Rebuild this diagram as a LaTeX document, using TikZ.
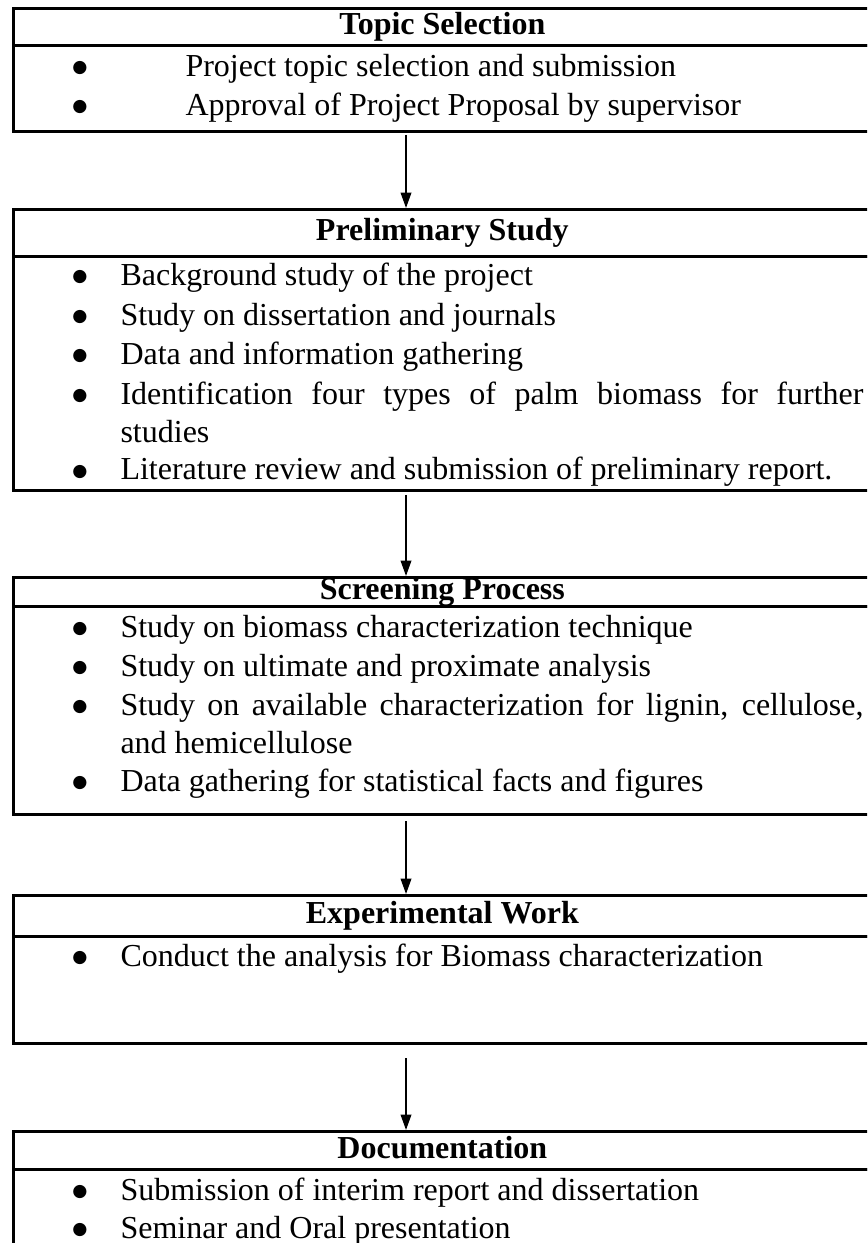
\documentclass[tikz,border=0pt]{standalone}
\usepackage{fontspec}
\setmainfont{Liberation Serif}
\newfontfamily\bulfont{DejaVu Sans}
\usetikzlibrary{arrows.meta}
\newcommand{\bigbul}{\raisebox{1.5pt}{\bulfont\fontsize{6.5pt}{7pt}\selectfont ●}}
\begin{document}
\begin{tikzpicture}[x=0.375pt,y=-0.375pt,
  font=\fontsize{12pt}{14.6pt}\selectfont,
  hdr/.style={draw, line width=1pt, anchor=north west, inner sep=0pt,
    minimum width=321.75pt, text height=8pt, text depth=2pt, font=\fontsize{12pt}{14.6pt}\selectfont\bfseries},
  body/.style={draw, line width=1pt, anchor=north west, inner sep=0pt, minimum width=321.75pt},
  bul/.style={anchor=base, inner sep=0pt},
  txt/.style={anchor=base west, inner sep=0pt},
  arr/.style={line width=0.65pt, -{Triangle[length=5.8pt,width=4pt]}}]
\useasboundingbox (0,0) rectangle (867,1243);
\clip (0,0) rectangle (867,1243);
\coordinate (ax) at (406,0);
% Box 1
\node[hdr, minimum height=13.875pt] (t1) at (12,7) {Topic Selection};
\node[body, minimum height=32.25pt] (b1) at (12,44) {};
\node[bul] (b1p1) at (80,77) {\bigbul};
\node[txt] (b1l1) at (185,77) {Project topic selection and submission};
\node[bul] (b1p2) at (80,116) {\bigbul};
\node[txt] (b1l2) at (185,116) {Approval of Project Proposal by supervisor};
% Box 2
\node[hdr, minimum height=17.625pt] (t2) at (12,208) {Preliminary Study};
\node[body, minimum height=87.75pt] (b2) at (12,255) {};
\node[bul] (b2p1) at (80,286) {\bigbul};
\node[txt] (b2l1) at (120,286) {Background study of the project};
\node[bul] (b2p2) at (80,326) {\bigbul};
\node[txt] (b2l2) at (120,326) {Study on dissertation and journals};
\node[bul] (b2p3) at (80,365) {\bigbul};
\node[txt] (b2l3) at (120,365) {Data and information gathering};
\node[bul] (b2p4) at (80,405) {\bigbul};
\node[txt] (b2l4) at (120,405) {\makebox[278.6pt][s]{Identification four types of palm biomass for further}};
\node[txt] (b2l5) at (120,443) {studies};
\node[bul] (b2p6) at (80,480) {\bigbul};
\node[txt] (b2l6) at (120,480) {Literature review and submission of preliminary report.};
% Box 3
\node[hdr, minimum height=10.875pt] (t3) at (12,576) {Screening Process};
\node[body, minimum height=78pt] (b3) at (12,605) {};
\node[bul] (b3p1) at (80,637) {\bigbul};
\node[txt] (b3l1) at (120,637) {Study on biomass characterization technique};
\node[bul] (b3p2) at (80,676) {\bigbul};
\node[txt] (b3l2) at (120,676) {Study on ultimate and proximate analysis};
\node[bul] (b3p3) at (80,715) {\bigbul};
\node[txt] (b3l3) at (120,715) {\makebox[278.6pt][s]{Study on available characterization for lignin, cellulose,}};
\node[txt] (b3l4) at (120,753) {and hemicellulose};
\node[bul] (b3p5) at (80,791) {\bigbul};
\node[txt] (b3l5) at (120,791) {Data gathering for statistical facts and figures};
% Box 4
\node[hdr, minimum height=15.375pt] (t4) at (12,894) {Experimental Work};
\node[body, minimum height=40.125pt] (b4) at (12,935) {};
\node[bul] (b4p1) at (80,966) {\bigbul};
\node[txt] (b4l1) at (120,966) {Conduct the analysis for Biomass characterization};
% Box 5
\node[hdr, minimum height=14.25pt] (t5) at (12,1130) {Documentation};
\node[body, minimum height=75pt] (b5) at (12,1168) {};
\node[bul] (b5p1) at (80,1200) {\bigbul};
\node[txt] (b5l1) at (120,1200) {Submission of interim report and dissertation};
\node[bul] (b5p2) at (80,1238) {\bigbul};
\node[txt] (b5l2) at (120,1238) {Seminar and Oral presentation};
% Arrows
\draw[arr, shorten <=0.8pt] (b1.south -| ax) -- (t2.north -| ax);
\draw[arr, shorten <=1.2pt] (b2.south -| ax) -- (t3.north -| ax);
\draw[arr, shorten <=2pt] (b3.south -| ax) -- (t4.north -| ax);
\draw[arr, shorten <=5pt] (b4.south -| ax) -- (t5.north -| ax);
\end{tikzpicture}
\end{document}
